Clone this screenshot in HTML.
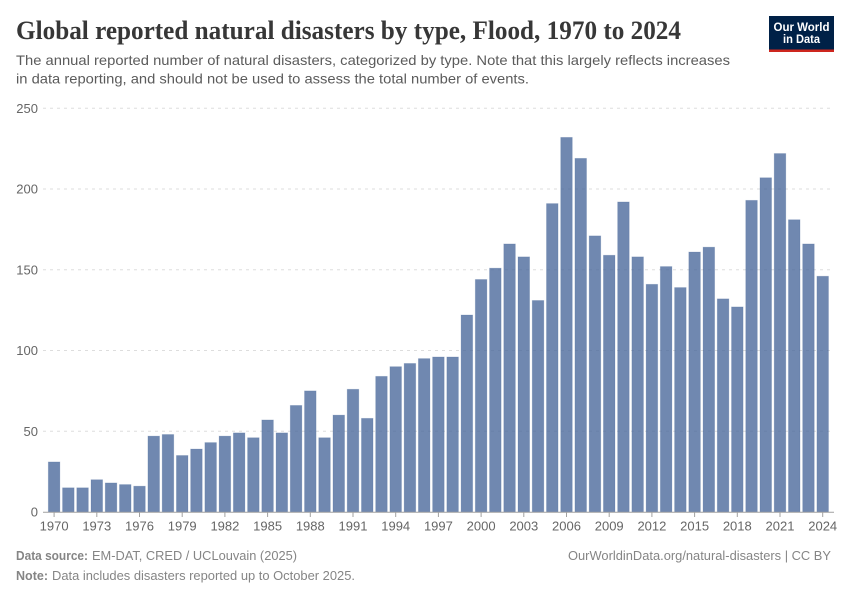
<!DOCTYPE html>
<html>
<head>
<meta charset="utf-8">
<style>
html,body{margin:0;padding:0;background:#fff;}
svg{display:block;font-family:"Liberation Sans",sans-serif;}
</style>
</head>
<body>
<svg id="chart" width="850" height="600" viewBox="0 0 850 600" xmlns="http://www.w3.org/2000/svg">
  <rect x="0" y="0" width="850" height="600" fill="#ffffff"/>
  <text x="16" y="39" font-family="'Liberation Serif',serif" font-weight="700" font-size="26" fill="#373737" textLength="665" lengthAdjust="spacingAndGlyphs">Global reported natural disasters by type, Flood, 1970 to 2024</text>
  <text x="16" y="65" font-size="14" fill="#5b5b5b" textLength="714" lengthAdjust="spacingAndGlyphs">The annual reported number of natural disasters, categorized by type. Note that this largely reflects increases</text>
  <text x="16" y="83.500" font-size="14" fill="#5b5b5b" textLength="513" lengthAdjust="spacingAndGlyphs">in data reporting, and should not be used to assess the total number of events.</text>
  <g>
    <rect x="769" y="16" width="65" height="36" fill="#002147"/>
    <rect x="769" y="49.500" width="65" height="2.500" fill="#ce261e"/>
    <text x="801.500" y="31" text-anchor="middle" font-size="12" font-weight="700" fill="#ffffff" textLength="56" lengthAdjust="spacingAndGlyphs">Our World</text>
    <text x="801.500" y="43" text-anchor="middle" font-size="12" font-weight="700" fill="#ffffff" textLength="37" lengthAdjust="spacingAndGlyphs">in Data</text>
  </g>
  <g id="grid"></g>
  <g id="bars"></g>
  <g id="xaxis"></g>
  <text x="16" y="560" font-size="13" font-weight="700" fill="#858585" textLength="72" lengthAdjust="spacingAndGlyphs">Data source:</text>
  <text x="92" y="560" font-size="13" fill="#858585" textLength="205" lengthAdjust="spacingAndGlyphs">EM-DAT, CRED / UCLouvain (2025)</text>
  <text x="568" y="560" font-size="13" fill="#858585" textLength="263" lengthAdjust="spacingAndGlyphs">OurWorldinData.org/natural-disasters | CC BY</text>
  <text x="16" y="580" font-size="13" font-weight="700" fill="#858585" textLength="32" lengthAdjust="spacingAndGlyphs">Note:</text>
  <text x="52" y="580" font-size="13" fill="#858585" textLength="303" lengthAdjust="spacingAndGlyphs">Data includes disasters reported up to October 2025.</text>
</svg>
<script>
const years = [1970,1971,1972,1973,1974,1975,1976,1977,1978,1979,1980,1981,1982,1983,1984,1985,1986,1987,1988,1989,1990,1991,1992,1993,1994,1995,1996,1997,1998,1999,2000,2001,2002,2003,2004,2005,2006,2007,2008,2009,2010,2011,2012,2013,2014,2015,2016,2017,2018,2019,2020,2021,2022,2023,2024];
const floods = [31,15,15,20,18,17,16,47,48,35,39,43,47,49,46,57,49,66,75,46,60,76,58,84,90,92,95,96,96,122,144,151,166,158,131,191,232,219,171,159,192,158,141,152,139,161,164,132,127,193,207,222,181,166,146];
const yTicks = [0,50,100,150,200,250];
const xTicks = [1970,1973,1976,1979,1982,1985,1988,1991,1994,1997,2000,2003,2006,2009,2012,2015,2018,2021,2024];

const NS = 'http://www.w3.org/2000/svg';
const plotBottom = 512, plotTop = 108.3, yMax = 250;
const firstCenter = 54.1, lastCenter = 822.7;
const firstYear = years[0], lastYear = years[years.length - 1];
const step = (lastCenter - firstCenter) / (lastYear - firstYear);
const barWidth = 11.6;
function yScale(v) { return plotBottom - (v / yMax) * (plotBottom - plotTop); }
function xScale(yr) { return firstCenter + (yr - firstYear) * step; }
function make(tag, attrs, parent) {
  const el = document.createElementNS(NS, tag);
  for (const k in attrs) el.setAttribute(k, attrs[k]);
  parent.appendChild(el);
  return el;
}

const grid = document.getElementById('grid');
yTicks.forEach(function (t) {
  const y = yScale(t);
  if (t > 0) {
    const line = make('line', {x1: 43, x2: 831, y1: y, y2: y, stroke: '#dddddd', 'stroke-width': 1, 'stroke-dasharray': '3,4'}, grid);
    
    
  }
  const label = make('text', {x: 38, y: y + 4.500, 'text-anchor': 'end', 'font-size': 13, fill: '#666666'}, grid);
  label.textContent = t;
  
  
});

const bars = document.getElementById('bars');
years.forEach(function (yr, i) {
  const y = yScale(floods[i]);
  const bar = make('rect', {x: xScale(yr) - barWidth / 2, y: y, width: barWidth, height: plotBottom - y, fill: '#4c6a9c', 'fill-opacity': 0.8, stroke: '#4c6a9c', 'stroke-opacity': 0.25, 'stroke-width': 0.8}, bars);
  
  
});

const xaxis = document.getElementById('xaxis');
const baseline = make('line', {x1: 43, x2: 834, y1: plotBottom + 0.200, y2: plotBottom + 0.200, stroke: '#a1a1a1', 'stroke-width': 1}, xaxis);


xTicks.forEach(function (yr) {
  const x = xScale(yr);
  const tick = make('line', {x1: x, x2: x, y1: plotBottom, y2: plotBottom + 5, stroke: '#a1a1a1', 'stroke-width': 1}, xaxis);
  
  
  const label = make('text', {x: x, y: plotBottom + 18.500, 'text-anchor': 'middle', 'font-size': 13, fill: '#666666'}, xaxis);
  label.textContent = yr;
  
  
});
</script>
</body>
</html>
